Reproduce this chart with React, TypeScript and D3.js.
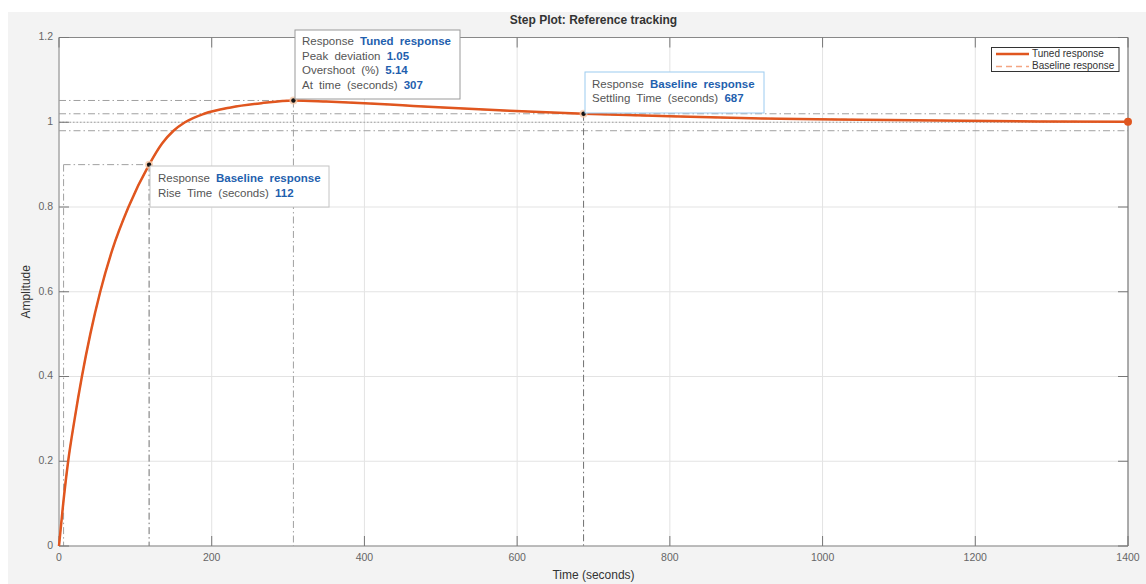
import React from "react";
import * as d3 from "d3";

const timeVals = [0, 5.5, 12, 20.5, 30, 41, 54, 70, 91, 118, 135, 150, 165, 190, 225, 265, 307, 350, 400, 450, 510, 590, 687, 800, 920, 1050, 1150, 1280, 1400];
const tunedVals = [0, 0.1, 0.2, 0.3, 0.4, 0.5, 0.6, 0.7, 0.8, 0.9, 0.95, 0.98, 1.0, 1.02, 1.035, 1.045, 1.0514, 1.049, 1.045, 1.04, 1.034, 1.027, 1.02, 1.014, 1.009, 1.006, 1.004, 1.002, 1.001];
const baselineVals = tunedVals;
const xTicks = [0, 200, 400, 600, 800, 1000, 1200, 1400];
const yTicks = [0, 0.2, 0.4, 0.6, 0.8, 1, 1.2];
const yTickLabels = ["0", "0.2", "0.4", "0.6", "0.8", "1", "1.2"];

const riseStart = 6;
const riseEnd = 118;
const riseTime = 112;
const peakTime = 307;
const peakValue = 1.05;
const peakY = 1.0514;
const overshoot = 5.14;
const settleTime = 687;
const settleY = 1.02;
const finalValue = 1.0;
const band = 0.02;

const W = 1146, H = 584;
const L = 59, R = 1128, T = 37.5, B = 546;

export default function App() {
  const x = d3.scaleLinear().domain([0, 1400]).range([L, R]);
  const y = d3.scaleLinear().domain([0, 1.2]).range([B, T]);
  const pts: [number, number][] = timeVals.map((t, i) => [t, tunedVals[i]]);
  const bpts: [number, number][] = timeVals.map((t, i) => [t, baselineVals[i]]);
  const line = d3.line<[number, number]>().x(d => x(d[0])).y(d => y(d[1])).curve(d3.curveMonotoneX);
  const dashDot = "7,3,1.5,3";
  const refC = "#a0a0a0";
  const darkRef = "#707070";
  const font = "'Liberation Sans', Arial, Helvetica, sans-serif";
  const blue = "#1f5fae";
  const lab = "#555";
  const orange = "#e0561f";

  const tipText = (x0: number, y0: number, rows: [string, string][]) =>
    rows.map((r, i) => (
      <text key={i} x={x0} y={y0 + i * 14.5} fontSize={11.5} fontFamily={font} fill={lab} wordSpacing={3} dominantBaseline="middle">
        {r[0]} <tspan fill={blue} fontWeight="bold">{r[1]}</tspan>
      </text>
    ));

  const marker = (t: number, v: number) => (
    <g>
      <circle cx={x(t)} cy={y(v)} r={4} fill="#f6c8a6" opacity={0.8} />
      <circle cx={x(t)} cy={y(v)} r={2.2} fill="#111" />
    </g>
  );

  return (
    <svg width={W} height={H} style={{ position: "absolute", left: 0, top: 0 }}>
      <rect x={0} y={0} width={W} height={H} fill="#fff" />
      <rect x={8} y={12} width={W - 8} height={H - 12} fill="#f3f3f3" />
      <text x={(L + R) / 2} y={21} textAnchor="middle" dominantBaseline="middle" fontSize={12} fontWeight="bold" fontFamily={font} fill="#333">Step Plot: Reference tracking</text>
      <rect x={L} y={T} width={R - L} height={B - T} fill="#fff" />
      {xTicks.map(t => (
        <line key={"gx" + t} x1={x(t)} x2={x(t)} y1={T} y2={B} stroke="#e3e3e3" strokeWidth={1} />
      ))}
      {yTicks.map(v => (
        <line key={"gy" + v} x1={L} x2={R} y1={y(v)} y2={y(v)} stroke="#e3e3e3" strokeWidth={1} />
      ))}
      {/* characteristic lines */}
      <line x1={L} x2={R} y1={y(finalValue + band)} y2={y(finalValue + band)} stroke={refC} strokeDasharray={dashDot} />
      <line x1={L} x2={R} y1={y(finalValue - band)} y2={y(finalValue - band)} stroke={refC} strokeDasharray={dashDot} />
      <line x1={L} x2={R} y1={y(finalValue)} y2={y(finalValue)} stroke={refC} strokeDasharray="1.5,2" />
      <line x1={L} x2={x(peakTime)} y1={y(peakY)} y2={y(peakY)} stroke={refC} strokeDasharray={dashDot} />
      <line x1={x(peakTime)} x2={x(peakTime)} y1={y(peakY)} y2={B} stroke={refC} strokeDasharray={dashDot} />
      <line x1={x(riseStart)} x2={x(riseEnd)} y1={y(0.9)} y2={y(0.9)} stroke={refC} strokeDasharray={dashDot} />
      <line x1={x(riseStart)} x2={x(riseStart)} y1={y(0.9)} y2={B} stroke={refC} strokeDasharray={dashDot} />
      <line x1={x(riseEnd)} x2={x(riseEnd)} y1={y(0.9)} y2={B} stroke={darkRef} strokeDasharray={dashDot} />
      <line x1={x(settleTime)} x2={x(settleTime)} y1={y(settleY)} y2={B} stroke={darkRef} strokeDasharray={dashDot} />
      {/* axes box */}
      <line x1={L} x2={R} y1={T} y2={T} stroke="#888" />
      <line x1={R} x2={R} y1={T} y2={B} stroke="#666" />
      <line x1={L} x2={R} y1={B} y2={B} stroke="#888" strokeWidth={1.2} />
      <line x1={L} x2={L} y1={T} y2={B} stroke="#999" strokeWidth={1.2} />
      {xTicks.map(t => (
        <g key={"tx" + t}>
          <line x1={x(t)} x2={x(t)} y1={B} y2={B - 10} stroke="#777" />
          <line x1={x(t)} x2={x(t)} y1={T} y2={T + 10} stroke="#777" />
          <text x={x(t)} y={558} textAnchor="middle" dominantBaseline="middle" fontSize={10.5} fontFamily={font} fill="#666">{t}</text>
        </g>
      ))}
      {yTicks.map((v, i) => (
        <g key={"ty" + v}>
          <line x1={L} x2={L + 10} y1={y(v)} y2={y(v)} stroke="#777" />
          <line x1={R} x2={R - 10} y1={y(v)} y2={y(v)} stroke="#777" />
          <text x={53} y={y(v)} textAnchor="end" dominantBaseline="middle" fontSize={10.5} fontFamily={font} fill="#666">{yTickLabels[i]}</text>
        </g>
      ))}
      <text x={(L + R) / 2} y={576} textAnchor="middle" dominantBaseline="middle" fontSize={12} fontFamily={font} fill="#333">Time (seconds)</text>
      <text transform={`translate(27,${(T + B) / 2}) rotate(-90)`} textAnchor="middle" dominantBaseline="middle" fontSize={12} fontFamily={font} fill="#333">Amplitude</text>
      {/* curves */}
      <path d={line(bpts) || ""} fill="none" stroke="#f4a582" strokeWidth={1.5} strokeDasharray="6,4" />
      <path d={line(pts) || ""} fill="none" stroke={orange} strokeWidth={2.5} />
      <circle cx={x(1400)} cy={y(tunedVals[tunedVals.length - 1])} r={4} fill={orange} />
      {marker(peakTime, peakY)}
      {marker(riseEnd, 0.9)}
      {marker(settleTime, settleY)}
      {/* datatips */}
      <rect x={295} y={30} width={165} height={69} fill="#fff" stroke="#9a9a9a" />
      {tipText(302, 42, [["Response", "Tuned response"], ["Peak deviation", peakValue.toFixed(2)], ["Overshoot (%)", overshoot.toFixed(2)], ["At time (seconds)", String(peakTime)]])}
      <rect x={150} y={166} width={179} height={41} fill="#fff" stroke="#c4c4c4" />
      {tipText(158, 179, [["Response", "Baseline response"], ["Rise Time (seconds)", String(riseTime)]])}
      <rect x={585} y={72} width={179} height={41} fill="#fff" stroke="#9ccbf0" />
      {tipText(592, 84.5, [["Response", "Baseline response"], ["Settling Time (seconds)", String(settleTime)]])}
      {/* legend */}
      <rect x={991.5} y={47.5} width={127.5} height={24} fill="#fff" stroke="#333" />
      <line x1={996} x2={1029} y1={54} y2={54} stroke={orange} strokeWidth={2.5} />
      <line x1={996} x2={1029} y1={66.5} y2={66.5} stroke="#f4a582" strokeWidth={1.5} strokeDasharray="6,4" />
      <text x={1032} y={54} dominantBaseline="middle" fontSize={10} fontFamily={font} fill="#333">Tuned response</text>
      <text x={1032} y={66.5} dominantBaseline="middle" fontSize={10} fontFamily={font} fill="#333">Baseline response</text>
    </svg>
  );
}
